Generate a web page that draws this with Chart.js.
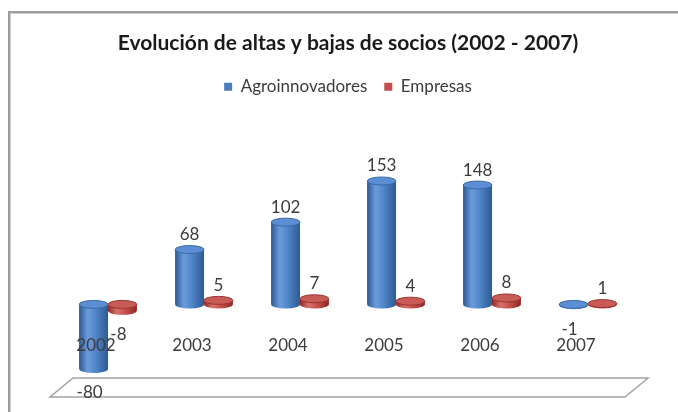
<!DOCTYPE html>
<html>
<head>
<meta charset="utf-8">
<script src="https://cdn.jsdelivr.net/npm/chart.js@4.4.1/dist/chart.umd.min.js"></script>
<style>
    html, body { margin: 0; padding: 0; background: #fff; overflow: hidden; }
    #frame {
        position: absolute; left: 8px; top: 11px; width: 720px; height: 460px;
        border: 2px solid #9c9c9c; box-shadow: inset 1px 1px 0 #d2d2d2;
    }
    #wrap { position: absolute; left: 0; top: 0; width: 678px; height: 412px; }
</style>
</head>
<body>
<div id="frame"></div>
<div id="wrap"><canvas id="chart"></canvas></div>
<script>
// Chart data
const years = ['2002', '2003', '2004', '2005', '2006', '2007'];
const agroinnovadores = [-80, 68, 102, 153, 148, -1];
const empresas = [-8, 5, 7, 4, 8, 1];
const seriesNames = ['Agroinnovadores', 'Empresas'];
const yMin = -90;
const yMax = 247;

const chartTitle = 'Evolución de altas y bajas de socios (2002 - 2007)';
const textColor = '#3c3c3c';

// Cylinder shading per series
const cylinderColors = [
    { dark: '#2d5a92', mid: '#4a7ebf', light: '#6b9ce0', cap: '#5b8ed2', edge: '#3a6aa6' },
    { dark: '#8a2826', mid: '#bf4a46', light: '#d9716b', cap: '#c85b56', edge: '#9c3330' }
];

Chart.defaults.font.family = 'Lato';

// Floor plane under the bars
const floorPlane = {
    id: 'floorPlane',
    beforeDatasetsDraw(chart) {
        const ctx = chart.ctx;
        const area = chart.chartArea;
        const yTop = chart.scales.y.getPixelForValue(yMin) + 1;
        const depth = 19, slant = 23;
        ctx.save();
        ctx.strokeStyle = '#a3a3a3';
        ctx.lineWidth = 1.5;
        ctx.beginPath();
        ctx.moveTo(area.left + 13, yTop);
        ctx.lineTo(area.right + 12, yTop);
        ctx.lineTo(area.right + 12 - slant, yTop + depth);
        ctx.lineTo(area.left + 13 - slant, yTop + depth);
        ctx.closePath();
        ctx.stroke();
        ctx.restore();
    }
};

// Draw each bar as a shaded cylinder
const cylinders = {
    id: 'cylinders',
    afterDatasetsDraw(chart) {
        const ctx = chart.ctx;
        chart.data.datasets.forEach((ds, di) => {
            const meta = chart.getDatasetMeta(di);
            const c = cylinderColors[di];
            meta.data.forEach((bar) => {
                const { x, y, base, width } = bar.getProps(['x', 'y', 'base', 'width'], true);
                const left = x - width / 2;
                const right = x + width / 2;
                const top = Math.min(y, base);
                const bottom = Math.max(y, base);
                const ry = 4;

                const g = ctx.createLinearGradient(left, 0, right, 0);
                g.addColorStop(0, c.dark);
                g.addColorStop(0.3, c.light);
                g.addColorStop(0.65, c.mid);
                g.addColorStop(1, c.dark);

                ctx.save();
                ctx.fillStyle = g;
                ctx.beginPath();
                ctx.moveTo(left, top);
                ctx.lineTo(left, bottom);
                ctx.ellipse(x, bottom, width / 2, ry, 0, Math.PI, 0, true);
                ctx.lineTo(right, top);
                ctx.closePath();
                ctx.fill();

                ctx.beginPath();
                ctx.ellipse(x, top, width / 2, ry, 0, 0, Math.PI * 2);
                ctx.fillStyle = c.cap;
                ctx.fill();
                ctx.strokeStyle = c.edge;
                ctx.lineWidth = 1;
                ctx.stroke();
                ctx.restore();
            });
        });
    }
};

// Value labels and category labels
const labelsPlugin = {
    id: 'labelsPlugin',
    afterDraw(chart) {
        const ctx = chart.ctx;
        const xScale = chart.scales.x;
        const zeroY = chart.scales.y.getPixelForValue(0);
        ctx.save();
        ctx.font = '17px Lato';
        ctx.fillStyle = textColor;
        ctx.textAlign = 'center';
        ctx.textBaseline = 'middle';

        years.forEach((yr, i) => {
            ctx.fillText(yr, xScale.getPixelForValue(i) - 12, zeroY + 41);
        });

        chart.data.datasets.forEach((ds, di) => {
            const meta = chart.getDatasetMeta(di);
            meta.data.forEach((bar, i) => {
                const v = ds.data[i];
                const { x, y, base } = bar.getProps(['x', 'y', 'base'], true);
                if (v >= 0) {
                    ctx.fillText(String(v), x, Math.min(y, base) - 15);
                } else {
                    ctx.fillText(String(v), x - 4, Math.max(y, base) + 24);
                }
            });
        });
        ctx.restore();
    }
};

new Chart(document.getElementById('chart'), {
    type: 'bar',
    data: {
        labels: years,
        datasets: [
            { label: seriesNames[0], data: agroinnovadores, backgroundColor: '#4a7ebf', borderWidth: 0 },
            { label: seriesNames[1], data: empresas, backgroundColor: '#c0504d', borderWidth: 0 }
        ]
    },
    options: {
        responsive: true,
        maintainAspectRatio: false,
        animation: false,
        layout: { padding: { left: 60, right: 42, top: 0, bottom: 35 } },
        datasets: { bar: { categoryPercentage: 0.6, barPercentage: 1 } },
        scales: {
            x: { display: false },
            y: { display: false, min: yMin, max: yMax }
        },
        plugins: {
            title: {
                display: true,
                text: chartTitle,
                color: '#1a1a1a',
                font: { size: 21, weight: 'bold' },
                padding: { top: 31, bottom: 5 }
            },
            legend: {
                position: 'top',
                labels: {
                    color: textColor,
                    font: { size: 17 },
                    boxWidth: 8,
                    boxHeight: 8,
                    padding: 17
                }
            },
            tooltip: { enabled: false }
        }
    },
    plugins: [floorPlane, cylinders, labelsPlugin]
});
</script>
</body>
</html>
